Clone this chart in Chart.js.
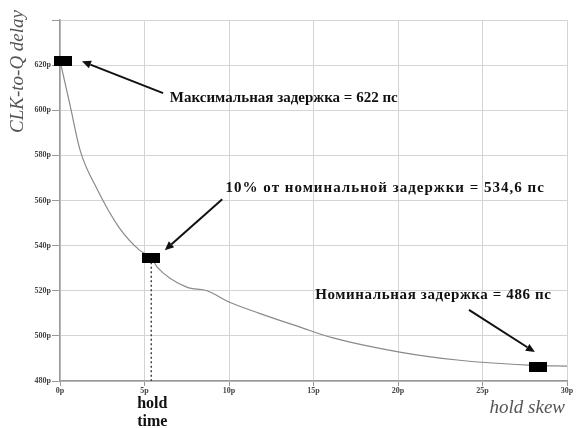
<!DOCTYPE html>
<html>
<head>
<meta charset="utf-8">
<script src="https://cdn.jsdelivr.net/npm/chart.js@4.4.1/dist/chart.umd.min.js"></script>
<style>
  html, body { margin: 0; padding: 0; background: #ffffff; }
  #wrap { width: 576px; height: 428px; position: relative; }
</style>
</head>
<body>
<div id="wrap"><canvas id="c" width="576" height="428"></canvas></div>
<script>
// hold skew (ps) vs CLK-to-Q delay (ps)
const holdSkew = [0, 0.6, 1.2, 2.2, 3.5, 4.7, 5.4, 5.75, 7.5, 8.7, 10, 11.8, 14.2, 16.1, 20.1, 23.5, 28, 30];
const clkToQ   = [622, 602, 582, 565, 548, 538, 534.6, 530.5, 521.6, 520, 515, 510, 503.9, 499.2, 492.8, 489.3, 486.9, 486.6];

// marked points: maximum, 10% over nominal (hold time), nominal
const markX = [0.2, 5.4, 28.3];
const markY = [622, 534.6, 486];
const markText = [
  'Максимальная задержка = 622 пс',
  '10% от номинальной задержки = 534,6 пс',
  'Номинальная задержка = 486 пс'
];
// arrow tails and text anchors (data units)
const arrowTail = [[6.1, 607.6], [9.6, 560.6], [24.2, 511.5]];
const arrowHead = [[1.3, 621.7], [6.2, 538], [28.1, 492.8]];
const textPos   = [[6.5, 605.2], [9.8, 565.3], [15.1, 518]];

const xTickValues = [0, 5, 10, 15, 20, 25, 30];
const yTickValues = [480, 500, 520, 540, 560, 580, 600, 620, 640];

const serif = '"Liberation Serif", "DejaVu Serif", serif';
const noteSpacing = ['0px', '1px', '0.6px'];

// black rectangular marker
const markImg = document.createElement('canvas');
markImg.width = 18; markImg.height = 10;
(function () {
  const g = markImg.getContext('2d');
  g.fillStyle = '#000';
  g.fillRect(0, 0, 18, 10);
})();

function drawArrow(ctx, x1, y1, x2, y2) {
  const ang = Math.atan2(y2 - y1, x2 - x1);
  const L = 9, W = 4;
  const bx = x2 - L * Math.cos(ang), by = y2 - L * Math.sin(ang);
  ctx.beginPath();
  ctx.moveTo(x1, y1);
  ctx.lineTo(bx, by);
  ctx.strokeStyle = '#111';
  ctx.lineWidth = 2;
  ctx.stroke();
  ctx.beginPath();
  ctx.moveTo(x2, y2);
  ctx.lineTo(bx + W * Math.sin(ang), by - W * Math.cos(ang));
  ctx.lineTo(bx - W * Math.sin(ang), by + W * Math.cos(ang));
  ctx.closePath();
  ctx.fillStyle = '#111';
  ctx.fill();
}

const annotations = {
  id: 'annotations',
  afterDatasetsDraw(chart) {
    const ctx = chart.ctx, xs = chart.scales.x, ys = chart.scales.y;
    ctx.save();
    for (let i = 0; i < markText.length; i++) {
      drawArrow(ctx,
        xs.getPixelForValue(arrowTail[i][0]), ys.getPixelForValue(arrowTail[i][1]),
        xs.getPixelForValue(arrowHead[i][0]), ys.getPixelForValue(arrowHead[i][1]));
      ctx.font = 'bold 15px ' + serif;
      ctx.letterSpacing = noteSpacing[i];
      ctx.fillStyle = '#111';
      ctx.textAlign = 'left';
      ctx.textBaseline = 'middle';
      ctx.fillText(markText[i], xs.getPixelForValue(textPos[i][0]), ys.getPixelForValue(textPos[i][1]));
    }
    ctx.letterSpacing = '0px';
    ctx.restore();
  },
  afterDraw(chart) {
    const ctx = chart.ctx, xs = chart.scales.x;
    ctx.save();
    // y axis title
    ctx.translate(18, 10);
    ctx.rotate(-Math.PI / 2);
    ctx.font = 'italic 19px ' + serif;
    ctx.fillStyle = '#555';
    ctx.textAlign = 'right';
    ctx.textBaseline = 'middle';
    ctx.fillText('CLK-to-Q delay', 0, 0);
    ctx.restore();

    ctx.save();
    ctx.font = 'italic 19px ' + serif;
    ctx.fillStyle = '#555';
    ctx.textAlign = 'right';
    ctx.textBaseline = 'middle';
    ctx.fillText('hold skew', 565, 408);

    // hold time label under the dotted marker line
    const hx = xs.getPixelForValue(markX[1]);
    ctx.font = 'bold 16px ' + serif;
    ctx.fillStyle = '#111';
    ctx.textAlign = 'center';
    ctx.fillText('hold', hx + 1, 404);
    ctx.fillText('time', hx + 1, 422);
    ctx.restore();
  }
};

new Chart(document.getElementById('c'), {
  type: 'scatter',
  data: {
    datasets: [
      {
        label: 'delay',
        data: holdSkew.map((x, i) => ({ x, y: clkToQ[i] })),
        showLine: true,
        borderColor: '#8a8a8a',
        borderWidth: 1.2,
        pointRadius: 0,
        cubicInterpolationMode: 'monotone',
        order: 3
      },
      {
        label: 'hold time',
        data: [{ x: markX[1], y: markY[1] }, { x: markX[1], y: 480 }],
        showLine: true,
        borderColor: '#444',
        borderWidth: 1.5,
        borderDash: [2, 2.5],
        pointRadius: 0,
        order: 2
      },
      {
        label: 'marks',
        data: markX.map((x, i) => ({ x, y: markY[i] })),
        pointStyle: markImg,
        pointRadius: 6,
        clip: false,
        order: 1
      }
    ]
  },
  options: {
    responsive: false,
    animation: false,
    events: [],
    layout: { padding: { top: 20, right: 9, left: 0, bottom: 0 } },
    plugins: { legend: { display: false }, tooltip: { enabled: false } },
    scales: {
      x: {
        type: 'linear',
        min: 0, max: 30,
        afterFit(s) { s.height = 47; },
        afterBuildTicks(s) { s.ticks = xTickValues.map(v => ({ value: v })); },
        grid: { color: '#d4d4d4', lineWidth: 1, tickLength: 5, tickColor: '#999' },
        border: { color: '#9a9a9a', width: 1.5 },
        ticks: {
          color: '#444', padding: 0, maxRotation: 0,
          font: { family: serif, size: 8, weight: 'bold' },
          callback: v => v + 'p'
        }
      },
      y: {
        type: 'linear',
        min: 480, max: 640,
        afterFit(s) { s.width = 60; },
        afterBuildTicks(s) { s.ticks = yTickValues.map(v => ({ value: v })); },
        grid: { color: '#d4d4d4', lineWidth: 1, tickLength: 8, tickColor: '#999' },
        border: { color: '#9a9a9a', width: 1.5 },
        ticks: {
          color: '#444', padding: 1,
          font: { family: serif, size: 8, weight: 'bold' },
          callback: v => (v === 640 ? '' : v + 'p')
        }
      }
    }
  },
  plugins: [annotations]
});
</script>
</body>
</html>
